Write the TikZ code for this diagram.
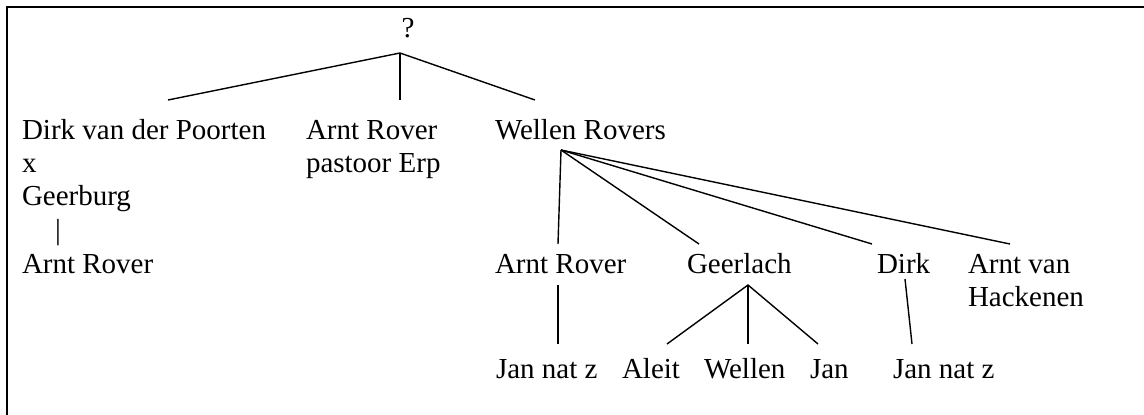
\documentclass[tikz,border=0pt]{standalone}
\usepackage{fontspec}
\setmainfont{Liberation Serif}
\begin{document}
\begin{tikzpicture}[x=1pt,y=-1pt,
  lbl/.style={inner sep=0pt,outer sep=0pt,anchor=base west,font=\fontsize{29}{33.5}\selectfont},
  link/.style={line width=1.4pt},
  frame/.style={line width=2.2pt}]
\useasboundingbox (0,0) rectangle (1144,415);
\fill[white] (0,0) rectangle (1144,415);
\draw[frame] (7,415) -- (7,7) -- (1144,7);
% top
\node[lbl,anchor=base] (q) at (408,37) {?};
\coordinate (jq) at (400,53);
\coordinate (e1) at (168,100);
\coordinate (e2) at (400,100);
\coordinate (e3) at (535,100);
\draw[link] (e1) -- (jq) -- (e3);
\draw[link] (jq) -- (e2);
% left column
\node[lbl] (dirk) at (22,139) {Dirk van der Poorten};
\node[lbl] (xx) at (22,172) {x};
\node[lbl] (geer) at (22,205) {Geerburg};
\node[lbl] (bar) at (55,239) {|};
\node[lbl] (arntL) at (22,273) {Arnt Rover};
% middle
\node[lbl] (arnt2) at (306,139) {Arnt Rover};
\node[lbl] (pastoor) at (306,172) {pastoor Erp};
% Wellen Rovers
\node[lbl] (wellen) at (495,139) {Wellen Rovers};
\coordinate (jw) at (561,150);
\coordinate (wa) at (558,244);
\coordinate (wg) at (699,244);
\coordinate (wd) at (872,244);
\coordinate (wh) at (1010,244);
\draw[link] (jw) -- (wa);
\draw[link] (jw) -- (wg);
\draw[link] (jw) -- (wd);
\draw[link] (jw) -- (wh);
% row 2
\node[lbl] (arntR) at (495,273) {Arnt Rover};
\node[lbl] (geerlach) at (687,273) {Geerlach};
\node[lbl] (dirk2) at (877,273) {Dirk};
\node[lbl] (arntvan) at (968,273) {Arnt van};
\node[lbl] (hack) at (968,306) {Hackenen};
% row 3
\node[lbl] (jan1) at (496,378) {Jan nat z};
\node[lbl] (aleit) at (622,378) {Aleit};
\node[lbl] (wellen2) at (704,378) {Wellen};
\node[lbl] (jan2) at (810,378) {Jan};
\node[lbl] (jan3) at (893,378) {Jan nat z};
% lower connectors
\coordinate (ra) at (558,285);
\coordinate (rb) at (558,344);
\draw[link] (ra) -- (rb);
\coordinate (jg) at (748,285);
\coordinate (ga) at (667,344);
\coordinate (gw) at (748,344);
\coordinate (gj) at (818,344);
\draw[link] (ga) -- (jg) -- (gj);
\draw[link] (jg) -- (gw);
\coordinate (da) at (905,279);
\coordinate (db) at (912,344);
\draw[link] (da) -- (db);
\end{tikzpicture}
\end{document}
